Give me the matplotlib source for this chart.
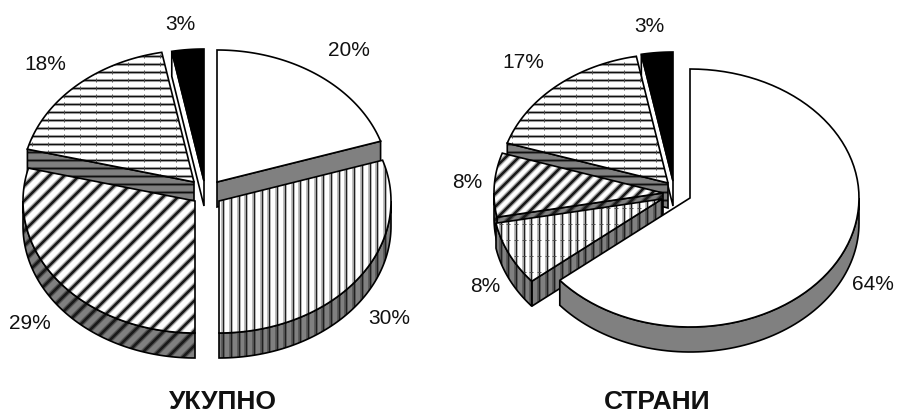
import numpy as np
import matplotlib
matplotlib.use('Agg')
import matplotlib.pyplot as plt
from matplotlib.collections import LineCollection
from matplotlib.patches import Polygon

plt.rcParams['font.family'] = ['Liberation Sans', 'DejaVu Sans']

# data
total_values = [20, 30, 29, 18, 3]
total_hatch = ['none', 'vert', 'diag', 'horiz', 'black']
total_title = 'УКУПНО'

foreign_values = [64, 8, 8, 17, 3]
foreign_hatch = ['none', 'vert_dot', 'diag_fine', 'horiz', 'black']
foreign_title = 'СТРАНИ'

# layout, in pixels of the 897x415 picture (y down)
DEPTH = 25
TOTAL_R = (172, 132)
FOREIGN_R = (169, 129)
TOTAL_CENTRES = [(217, 182), (219, 201), (195, 201), (194, 182), (204, 181)]
FOREIGN_CENTRES = [(690, 198), (662, 199), (663, 193), (668, 183), (673, 181)]
TOTAL_ORDER = [4, 0, 3, 2, 1]
FOREIGN_ORDER = [4, 3, 2, 1, 0]
TOTAL_LABELS = [(349, 51), (389, 318), (30, 323), (45, 65), (180, 24)]
FOREIGN_LABELS = [(873, 284), (485, 286), (467, 182), (523, 62), (649, 27)]

GRAY = '#808080'
LW = 1.2


def rim(c, a, b, r, dy=0, n=80):
    t = np.radians(np.linspace(a, b, n))
    return np.column_stack([c[0] + r[0] * np.sin(t), c[1] - r[1] * np.cos(t) + dy])


def add_lines(ax, patch, segs, strokes):
    # a soft halo below a dark core, like the scanned original
    for lw, col in strokes:
        lc = LineCollection(segs, colors=col, linewidths=lw, zorder=patch.get_zorder())
        ax.add_collection(lc, autolim=False)
        lc.set_clip_path(patch)


def grid(lo, hi, step):
    return np.arange(np.floor(lo / step) * step, hi + 1, step)


def add_hatch(ax, patch, kind, on_wall=False):
    if kind not in ('vert', 'vert_dot', 'diag', 'diag_fine', 'horiz'):
        return
    pts = patch.get_xy()
    x0, y0 = pts.min(axis=0)
    x1, y1 = pts.max(axis=0)
    halo = '#555555' if on_wall else '#b0b0b0'
    if kind.startswith('vert'):
        segs = [[(x, y0), (x, y1)] for x in grid(x0, x1, 7.7)]
        add_lines(ax, patch, segs, [(2.6, halo), (0.8, '#202020')])
    elif kind == 'horiz':
        segs = [[(x0, y), (x1, y)] for y in grid(y0, y1, 8.0)]
        add_lines(ax, patch, segs, [(2.2, halo), (0.9, '#101010')])
    else:
        step = 15.0 if kind == 'diag' else 13.0
        segs = [[(k - y0, y0), (k - y1, y1)] for k in grid(x0 + y0, x1 + y1 + step, step)]
        add_lines(ax, patch, segs, [(3.8, halo), (1.9, '#1a1a1a')])
    # small cross ticks on the pattern lines
    if not on_wall and kind == 'vert_dot':
        segs = [[(x - 2, y), (x + 2, y)] for y in grid(y0, y1, 16.0) for x in grid(x0, x1, 7.7)]
        add_lines(ax, patch, segs, [(0.7, '#505050')])
    if not on_wall and kind == 'horiz':
        segs = [[(x, y - 2), (x, y + 2)] for x in grid(x0, x1, 16.0) for y in grid(y0, y1, 8.0)]
        add_lines(ax, patch, segs, [(0.7, '#505050')])


def draw_face(ax, pts, face, kind=None, on_wall=False):
    p = Polygon(pts, closed=True, facecolor=face, edgecolor='none', zorder=ax.z)
    ax.add_patch(p)
    add_hatch(ax, p, kind, on_wall)
    ax.add_patch(Polygon(pts, closed=True, fill=False, edgecolor='black', linewidth=LW, zorder=ax.z))
    ax.z += 1


def draw_pie(ax, values, hatches, r, centres, order, labels, title, title_x):
    edges = np.cumsum([0] + list(values)) * 3.6
    for i in order:
        a, b = edges[i], edges[i + 1]
        c = centres[i]
        kind = hatches[i]
        wall = GRAY
        top = 'black' if kind == 'black' else 'white'
        if kind == 'black':
            wall = 'white'
        # cut faces that look toward the viewer
        for ang, seen in ((a, 180 < a < 360), (b, 0 < b < 180)):
            if seen:
                e = rim(c, ang, ang, r, n=1)[0]
                pts = [c, e, (e[0], e[1] + DEPTH), (c[0], c[1] + DEPTH)]
                draw_face(ax, pts, wall, kind, on_wall=True)
        # outer wall, only the front half of the rim
        lo, hi = max(a, 90), min(b, 270)
        if lo < hi:
            pts = np.vstack([rim(c, lo, hi, r), rim(c, hi, lo, r, DEPTH)])
            draw_face(ax, pts, wall, kind, on_wall=True)
        pts = np.vstack([[c], rim(c, a, b, r)])
        draw_face(ax, pts, top, kind)
    for v, (x, y) in zip(values, labels):
        ax.text(x, y, f'{v}%', ha='center', va='center', fontsize=15, color='#111111', zorder=ax.z)
    ax.text(title_x, 402, title, ha='center', va='center', fontsize=19, fontweight='bold',
            color='#111111', zorder=ax.z)


fig = plt.figure(figsize=(8.97, 4.15), dpi=100)
ax = fig.add_axes([0, 0, 1, 1])
ax.set_xlim(0, 897)
ax.set_ylim(415, 0)
ax.axis('off')
ax.z = 2

draw_pie(ax, total_values, total_hatch, TOTAL_R, TOTAL_CENTRES, TOTAL_ORDER, TOTAL_LABELS, total_title, 223)
draw_pie(ax, foreign_values, foreign_hatch, FOREIGN_R, FOREIGN_CENTRES, FOREIGN_ORDER, FOREIGN_LABELS, foreign_title, 657)

fig.savefig('out.png', dpi=100)
